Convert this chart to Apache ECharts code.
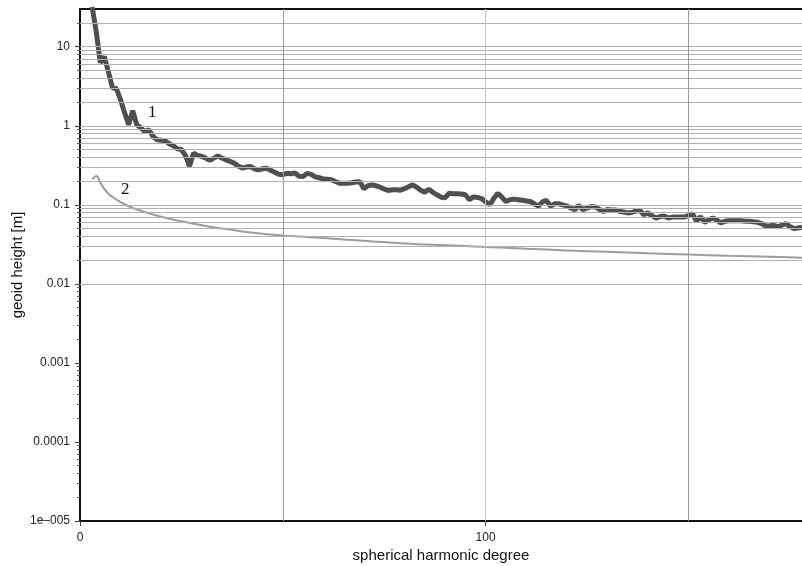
<!DOCTYPE html>
<html><head><meta charset="utf-8">
<script src="https://cdn.jsdelivr.net/npm/echarts@6/dist/echarts.min.js"></script>
<style>html,body{margin:0;padding:0;background:#fff}#c{width:802px;height:566px}</style>
</head><body><div id="c"></div>
<script>
const degrees1 = [3,4,5,6,7,8,9,10,11,12,13,14,15,16,17,18,19,20,21,22,23,24,25,26,27,28,29,30,31,32,33,34,35,36,37,38,39,40,41,42,43,44,45,46,47,48,49,50,51,52,53,54,55,56,57,58,59,60,61,62,63,64,65,66,67,68,69,70,71,72,73,74,75,76,77,78,79,80,81,82,83,84,85,86,87,88,89,90,91,92,93,94,95,96,97,98,99,100,101,102,103,104,105,106,107,108,109,110,111,112,113,114,115,116,117,118,119,120,121,122,123,124,125,126,127,128,129,130,131,132,133,134,135,136,137,138,139,140,141,142,143,144,145,146,147,148,149,150,151,152,153,154,155,156,157,158,159,160,161,162,163,164,165,166,167,168,169,170,171,172,173,174,175,176,177,178];
const values1 = [32,15.5,6.3,7.5,4.8,3.03,2.94,2.13,1.46,1.03,1.55,1.03,0.94,0.84,0.89,0.73,0.665,0.655,0.645,0.59,0.56,0.51,0.50,0.42,0.31,0.45,0.42,0.41,0.39,0.365,0.39,0.415,0.39,0.37,0.355,0.337,0.31,0.292,0.30,0.305,0.286,0.277,0.286,0.29,0.273,0.258,0.243,0.24,0.25,0.247,0.252,0.23,0.228,0.25,0.243,0.226,0.22,0.212,0.21,0.207,0.197,0.188,0.188,0.188,0.19,0.194,0.196,0.16,0.174,0.179,0.174,0.167,0.158,0.152,0.155,0.155,0.153,0.16,0.169,0.179,0.167,0.153,0.144,0.158,0.144,0.134,0.125,0.123,0.14,0.138,0.138,0.137,0.134,0.116,0.126,0.124,0.12,0.109,0.10,0.12,0.14,0.125,0.11,0.116,0.118,0.116,0.114,0.112,0.11,0.103,0.096,0.109,0.114,0.096,0.103,0.103,0.10,0.097,0.091,0.0865,0.098,0.0865,0.091,0.095,0.094,0.088,0.082,0.087,0.086,0.086,0.083,0.081,0.079,0.08,0.083,0.085,0.075,0.079,0.073,0.068,0.071,0.072,0.068,0.07,0.07,0.07,0.07,0.073,0.077,0.062,0.071,0.06,0.065,0.068,0.064,0.059,0.062,0.063,0.063,0.063,0.063,0.062,0.062,0.061,0.06,0.058,0.054,0.054,0.055,0.053,0.055,0.058,0.053,0.05,0.051,0.052];
const degrees2 = [3,4,5,6,7,8,10,12,15,20,25,30,35,40,45,50,60,70,80,90,100,110,120,130,140,150,160,170,178];
const values2 = [0.21,0.232,0.19,0.159,0.138,0.126,0.108,0.096,0.084,0.0706,0.0618,0.055,0.050,0.046,0.043,0.041,0.038,0.035,0.0325,0.0308,0.0293,0.0278,0.0265,0.0254,0.0244,0.0235,0.0227,0.022,0.0214];
const yMajorTicks = [0.00001,0.0001,0.001,0.01,0.1,1,10];
const yTickLabels = ['1e\u2013005','0.0001','0.001','0.01','0.1','1','10'];
const yMinorTicks = [0.00002,0.00003,0.00004,0.00005,0.00006,0.00007,0.00008,0.00009,
  0.0002,0.0003,0.0004,0.0005,0.0006,0.0007,0.0008,0.0009,
  0.002,0.003,0.004,0.005,0.006,0.007,0.008,0.009,
  0.02,0.03,0.04,0.05,0.06,0.07,0.08,0.09,
  0.2,0.3,0.4,0.5,0.6,0.7,0.8,0.9,
  2,3,4,5,6,7,8,9,20];
const xTickValues = [0,100];
const xTickLabels = ['0','100'];
const xGridValues = [50,100,150];
const xGridColors = ['#9a9a9a','#c4c4c4','#9a9a9a'];

const FONT = 'Liberation Sans, Arial, Helvetica, sans-serif';
function labelFor(v, ticks, labels){
  for (let i=0;i<ticks.length;i++){
    if (Math.abs(v-ticks[i]) <= Math.abs(ticks[i])*1e-6 + 1e-12) return labels[i];
  }
  return '';
}
const gridMarks = [];
yMinorTicks.forEach(v=>gridMarks.push({yAxis:v}));
yMajorTicks.forEach(v=>gridMarks.push({yAxis:v}));
xGridValues.forEach((v,i)=>gridMarks.push({xAxis:v, lineStyle:{color:xGridColors[i], width:1, type:'solid'}}));

const chart = echarts.init(document.getElementById('c'));
chart.setOption({
  animation:false,
  backgroundColor:'#fff',
  grid:{left:80, right:0, top:9, bottom:45, containLabel:false, outerBoundsMode:'none'},
  xAxis:[
    {type:'value', min:0, max:178, position:'bottom',
     axisLine:{show:true, onZero:false, lineStyle:{color:'#111', width:2}},
     axisTick:{show:true, customValues:xTickValues, length:5, lineStyle:{color:'#444', width:1}},
     axisLabel:{customValues:xTickValues, formatter:v=>labelFor(v,xTickValues,xTickLabels), fontSize:12, color:'#222', margin:11, fontFamily:FONT},
     splitLine:{show:false},
     name:'spherical harmonic degree', nameLocation:'middle', nameGap:27, nameMoveOverlap:false,
     nameTextStyle:{fontSize:15, color:'#111', fontFamily:FONT}},
    {type:'value', min:0, max:178, position:'top',
     axisLine:{show:true, onZero:false, lineStyle:{color:'#111', width:2}},
     axisTick:{show:false}, axisLabel:{show:false}, splitLine:{show:false}}
  ],
  yAxis:[
    {type:'log', logBase:10, min:0.00001, max:30, position:'left',
     axisLine:{show:true, onZero:false, lineStyle:{color:'#111', width:2}},
     axisTick:{show:true, customValues:yMajorTicks, length:5, lineStyle:{color:'#444', width:1}},
     axisLabel:{customValues:yMajorTicks, formatter:v=>labelFor(v,yMajorTicks,yTickLabels), fontSize:12, color:'#222', margin:10, fontFamily:FONT},
     splitLine:{show:false},
     name:'geoid height [m]', nameLocation:'middle', nameGap:55, nameMoveOverlap:false,
     nameTextStyle:{fontSize:15, color:'#111', fontFamily:FONT}},
    {type:'log', logBase:10, min:0.00001, max:30, position:'left',
     axisLine:{show:false},
     axisTick:{show:true, customValues:yMinorTicks, length:3, lineStyle:{color:'#555', width:1}},
     axisLabel:{show:false}, splitLine:{show:false}}
  ],
  series:[
    {type:'line', name:'grid', data:[], z:1, silent:true,
     markLine:{silent:true, symbol:['none','none'], label:{show:false}, animation:false,
       lineStyle:{color:'#b0b0b0', width:1, type:'solid'}, data:gridMarks}},
    {type:'line', name:'2', data:degrees2.map((d,i)=>[d,values2[i]]), showSymbol:false, symbol:'none',
     smooth:0.4, lineStyle:{color:'#9c9c9c', width:2}, z:3},
    {type:'line', name:'1', data:degrees1.map((d,i)=>[d,values1[i]]), showSymbol:false, symbol:'none',
     lineStyle:{color:'#4f4f4f', width:5}, z:4}
  ],
  graphic:[
    {type:'text', left:148, top:104, style:{text:'1', fontSize:17, fontFamily:'Liberation Serif, Times New Roman, serif', fill:'#111'}},
    {type:'text', left:121, top:181, style:{text:'2', fontSize:17, fontFamily:'Liberation Serif, Times New Roman, serif', fill:'#111'}}
  ]
});
</script></body></html>
